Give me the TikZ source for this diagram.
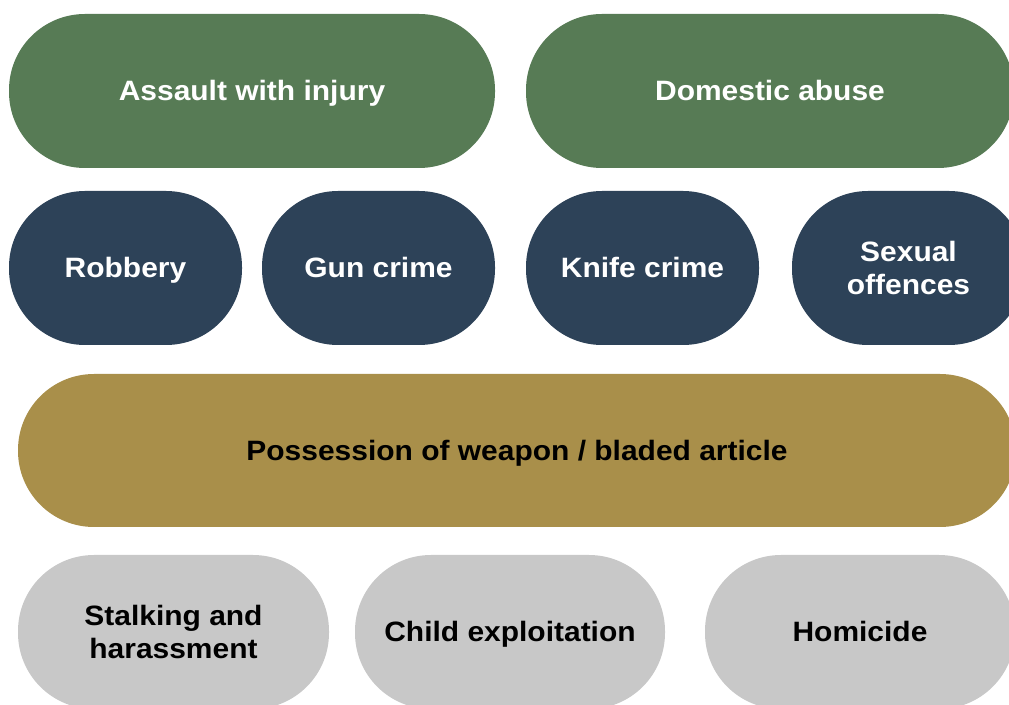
\documentclass[tikz,border=0pt]{standalone}
\usepackage{fontspec}
\setmainfont{Liberation Sans}[FakeStretch=1.07]
\definecolor{crimegreen}{HTML}{577B55}
\definecolor{crimeblue}{HTML}{2D4258}
\definecolor{crimegold}{HTML}{A98F4A}
\definecolor{crimegrey}{HTML}{C8C8C8}
\begin{document}
\begin{tikzpicture}[x=1pt, y=1pt,
  pill/.style={rectangle, rounded corners=76pt, minimum height=154pt,
    inner sep=0pt, align=center, font=\fontsize{28}{33}\selectfont\bfseries},
  oneline/.style={text height=26pt, text depth=6pt},
  lightpill/.style={pill, text=white},
  darkpill/.style={pill, text=black}]
% page and clip
\useasboundingbox (0,0) rectangle (1009,704);
\clip (0,0) rectangle (1009,704);

% top row
\node[lightpill, oneline, fill=crimegreen, minimum width=486pt] (assault) at (252,613) {Assault with injury};
\node[lightpill, oneline, fill=crimegreen, minimum width=488pt] (domestic) at (770,613) {Domestic abuse};

% second row
\node[lightpill, oneline, fill=crimeblue, minimum width=233pt] (robbery) at (125.5,436) {Robbery};
\node[lightpill, oneline, fill=crimeblue, minimum width=233pt] (gun) at (378.5,436) {Gun crime};
\node[lightpill, oneline, fill=crimeblue, minimum width=233pt] (knife) at (642.5,436) {Knife crime};
\node[lightpill, fill=crimeblue, minimum width=233pt] (sexual) at (908.5,436) {Sexual\\offences};

% weapon band
\node[darkpill, oneline, fill=crimegold, minimum width=998pt, minimum height=153pt] (weapon) at (517,253.5) {Possession of weapon / bladed article};

% bottom row
\node[darkpill, fill=crimegrey, minimum width=311pt] (stalking) at (173.5,72) {Stalking and\\harassment};
\node[darkpill, oneline, fill=crimegrey, minimum width=310pt] (child) at (510,72) {Child exploitation};
\node[darkpill, oneline, fill=crimegrey, minimum width=310pt] (homicide) at (860,72) {Homicide};
\end{tikzpicture}
\end{document}
